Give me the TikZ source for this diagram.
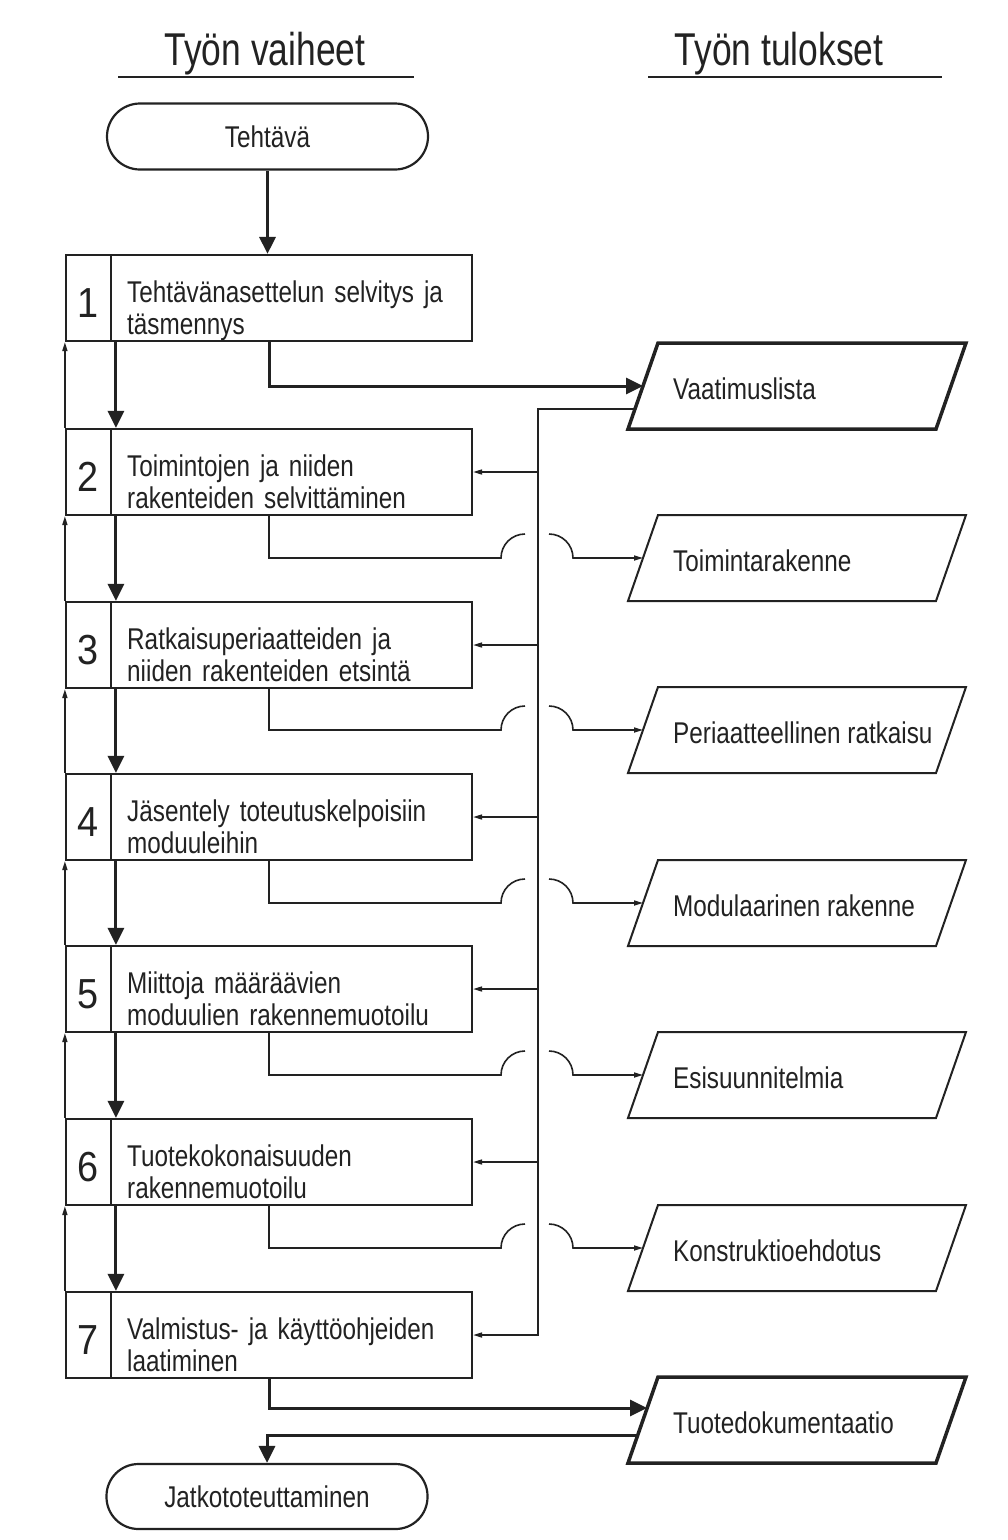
\documentclass[tikz,border=0pt]{standalone}
\usepackage{fontspec}
\setmainfont{Liberation Sans}[FakeStretch=0.81]
\newfontfamily\headfont{Liberation Sans}[FakeStretch=0.77]
\newfontfamily\numfont{Liberation Sans}[FakeStretch=0.9]
\usetikzlibrary{arrows.meta}

\definecolor{ink}{HTML}{222222}

% one work stage: name, top y, number, two-line description
\newcommand\stagebox[4]{%
  \node[stage] (#1) at (269,#2+43) {};
  \draw[stageline] (111,#2) -- (111,#2+86);
  \node[stagenum] (#1-num) at (88.5,#2+48) {#3};
  \node[stagetext] (#1-txt) at (127,#2+47) {#4};
}

% one work result (parallelogram): name, top y, label, border width
\newcommand\resultbox[4]{%
  \coordinate (#1-tl) at (658,#2);
  \coordinate (#1-tr) at (966,#2);
  \coordinate (#1-br) at (936,#2+86);
  \coordinate (#1-bl) at (628,#2+86);
  \draw[draw=ink, line width=#4, line join=miter]
    (#1-tl) -- (#1-tr) -- (#1-br) -- (#1-bl) -- cycle;
  \coordinate (#1-in) at (643,#2+43);
  \node[restext] (#1) at (673,#2+56) {#3};
}

% output line from a stage to its result, hopping over the feedback bus
\newcommand\hopline[3]{%
  \draw[thinline] (#1.south) |- (501,#3) arc[start angle=180, end angle=90, radius=24pt];
  \draw[fbarrow] (549,#3-24) arc[start angle=90, end angle=0, radius=24pt] -- (#2-in);
}

\begin{document}
\begin{tikzpicture}[x=1pt, y=-1pt,
  bodyfont/.style={font=\fontsize{30}{32}\selectfont},
  stage/.style={draw=ink, line width=2.2pt, minimum width=406pt, minimum height=86pt, inner sep=0pt},
  stageline/.style={draw=ink, line width=2pt},
  stagenum/.style={text=ink, inner sep=0pt, font=\numfont\fontsize{42}{46}\selectfont},
  stagetext/.style={text=ink, anchor=base west, inner sep=0pt, text width=340pt, align=left, bodyfont},
  restext/.style={text=ink, anchor=base west, inner sep=0pt, bodyfont},
  terminal/.style={draw=ink, line width=2.2pt, rounded corners=33pt, minimum width=321pt, minimum height=66pt, inner sep=0pt, text=ink, bodyfont},
  heading/.style={text=ink, anchor=base, inner sep=0pt, font=\headfont\fontsize{46}{50}\selectfont},
  mainflow/.style={draw=ink, line width=3pt, -{Triangle[length=17pt, width=16pt]}},
  thinline/.style={draw=ink, line width=1.6pt},
  fbarrow/.style={draw=ink, line width=1.6pt, -{Triangle[length=9pt, width=5pt]}},
]
\useasboundingbox (0,0) rectangle (1008,1540);
\fill[white] (0,0) rectangle (1008,1540);

% column headings
\node[heading] (hsteps) at (265,65) {Työn vaiheet};
\node[heading] (hresults) at (779,65) {Työn tulokset};
\draw[draw=ink, line width=2.5pt] (118,77) -- (414,77);
\draw[draw=ink, line width=2.5pt] (648,77) -- (942,77);

% start and end terminals
\node[terminal] (tehtava) at (267.5,136.5) {Tehtävä};
\node[terminal, minimum height=65pt, rounded corners=32pt] (jatko) at (267,1496.5) {Jatkototeuttaminen};

% work stages
\stagebox{s1}{255}{1}{Tehtävänasettelun selvitys ja\\täsmennys}
\stagebox{s2}{429}{2}{Toimintojen ja niiden\\rakenteiden selvittäminen}
\stagebox{s3}{602}{3}{Ratkaisuperiaatteiden ja\\niiden rakenteiden etsintä}
\stagebox{s4}{774}{4}{Jäsentely toteutuskelpoisiin\\moduuleihin}
\stagebox{s5}{946}{5}{Miittoja määräävien\\moduulien rakennemuotoilu}
\stagebox{s6}{1119}{6}{Tuotekokonaisuuden\\rakennemuotoilu}
\stagebox{s7}{1292}{7}{Valmistus- ja käyttöohjeiden\\laatiminen}

% work results
\resultbox{r1}{343}{Vaatimuslista}{3.5pt}
\resultbox{r2}{515}{Toimintarakenne}{2pt}
\resultbox{r3}{687}{Periaatteellinen ratkaisu}{2pt}
\resultbox{r4}{860}{Modulaarinen rakenne}{2pt}
\resultbox{r5}{1032}{Esisuunnitelmia}{2pt}
\resultbox{r6}{1205}{Konstruktioehdotus}{2pt}
\resultbox{r7}{1377}{Tuotedokumentaatio}{3.5pt}
\coordinate (r1-bus) at (635,409);
\coordinate (r7-a) at (647,1408);
\coordinate (r7-b) at (638,1435);

% main flow through the stages
\draw[mainflow] (tehtava.south) -- (tehtava.south |- s1.north);
\foreach \a/\b in {s1/s2, s2/s3, s3/s4, s4/s5, s5/s6, s6/s7}
  \draw[mainflow] ([xshift=51pt]\a.south west) -- ([xshift=51pt]\b.north west);

% feedback to the previous stage
\foreach \a/\b in {s1/s2, s2/s3, s3/s4, s4/s5, s5/s6, s6/s7}
  \draw[fbarrow] (\b.north west) -- (\a.south west);

% main outputs
\draw[mainflow] (s1.south) |- (r1-in);
\draw[mainflow] (s7.south) |- (r7-a);
\draw[mainflow] (r7-b) -| (jatko.north);

% intermediate outputs
\hopline{s2}{r2}{558}
\hopline{s3}{r3}{730}
\hopline{s4}{r4}{903}
\hopline{s5}{r5}{1075}
\hopline{s6}{r6}{1248}

% requirement list fed back to every later stage
\coordinate (bus) at (538,409);
\draw[fbarrow] (r1-bus) -- (bus) -- (bus |- s7.east) -- (s7.east);
\foreach \s in {s2, s3, s4, s5, s6}
  \draw[fbarrow] (bus |- \s.east) -- (\s.east);
\end{tikzpicture}
\end{document}
